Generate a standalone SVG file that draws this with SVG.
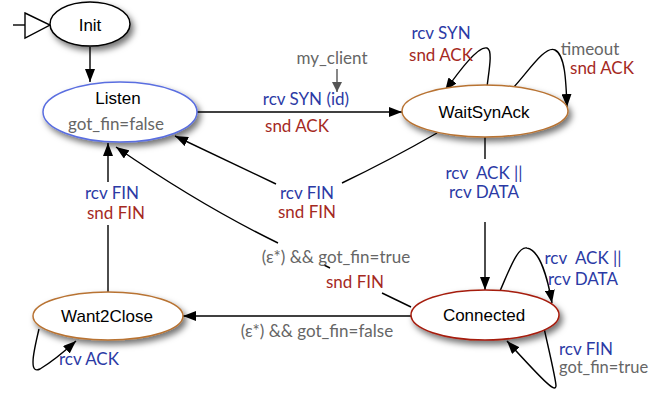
<svg xmlns="http://www.w3.org/2000/svg" width="651" height="393" viewBox="0 0 651 393">
<defs>
<filter id="sh" x="-30%" y="-40%" width="160%" height="190%">
<feDropShadow dx="3" dy="4" stdDeviation="3" flood-color="#000" flood-opacity="0.55"/>
</filter>
<marker id="ah" viewBox="0 0 13 10" refX="13" refY="5" markerWidth="13" markerHeight="10" markerUnits="userSpaceOnUse" orient="auto">
<path d="M0,0 L13,5 L0,10 Z" fill="#000"/>
</marker>
<marker id="ahg" viewBox="0 0 10 10" refX="10" refY="5" markerWidth="10" markerHeight="10" markerUnits="userSpaceOnUse" orient="auto">
<path d="M0,0 L10,5 L0,10 Z" fill="#555"/>
</marker>
</defs>
<style>
.node{fill:#fff;stroke-width:1.5;filter:url(#sh)}
.nm{font-family:"Liberation Sans",Arial,sans-serif;font-size:17px;fill:#000;text-anchor:middle;dominant-baseline:central}
.lb{font-family:Lato,"Open Sans",sans-serif;font-size:17px;text-anchor:middle;dominant-baseline:central}
.b{fill:#2b3aa5}
.r{fill:#a52a1f}
.g{fill:#666}
.e{fill:none;stroke:#000;stroke-width:1.4}
.a{marker-end:url(#ah)}
</style>
<g id="connectors">
<path class="e" d="M13,25 L25,25"/>
<path d="M25,13 L50,25 L25,38 Z" fill="#fff" stroke="#000" stroke-width="1.4"/>
<path class="e a" d="M90,47 L90,82"/>
<path class="e a" d="M197,112 L402,112"/>
<path class="e" d="M437,133 Q390,160 342,183"/>
<path class="e a" d="M276,184 Q230,162 175,136"/>
<path class="e" d="M411,307 L382,293"/>
<path class="e" d="M324,265 L330,268"/>
<path class="e a" d="M278,243 Q200,205 116,147"/>
<path class="e a" d="M411,316 L183,316"/>
<path class="e" d="M108,292 L108,225"/>
<path class="e a" d="M108,182 L108,143"/>
<path class="e a" d="M39,329 C34,350 28,375 40,369 Q55,360 76,341"/>
<path class="e" d="M485,137 L485,159"/>
<path class="e a" d="M485,222 L485,290"/>
<path class="e a" d="M500,291 C510,268 518,246 527,248 C540,250 548,280 552,303"/>
<path class="e a" d="M544,328 C550,355 556,380 556,386 C555,392 548,386 507,341"/>
<path class="e a" d="M487,87 C489,70 493,50 487,48 C478,46 460,70 445,91"/>
<path class="e a" d="M513,88 C528,72 545,45 555,50 C565,55 566,80 567,107"/>
<path d="M337,69 L337,92" fill="none" stroke="#555" stroke-width="1.4" marker-end="url(#ahg)"/>
</g>
<g id="labels">
<text class="lb g" x="332" y="57">my_client</text>
<text class="lb b" x="306" y="98">rcv SYN (id)</text>
<text class="lb r" x="297" y="125">snd ACK</text>
<text class="lb b" x="441" y="32">rcv SYN</text>
<text class="lb r" x="441" y="54">snd ACK</text>
<text class="lb g" x="590" y="48">timeout</text>
<text class="lb r" x="602" y="67">snd ACK</text>
<text class="lb b" x="307" y="192">rcv FIN</text>
<text class="lb r" x="307" y="211">snd FIN</text>
<text class="lb b" x="112" y="192">rcv FIN</text>
<text class="lb r" x="116" y="212">snd FIN</text>
<text class="lb b" x="484" y="172" xml:space="preserve">rcv  ACK ||</text>
<text class="lb b" x="484" y="191">rcv DATA</text>
<text class="lb g" x="336" y="256">(ε*) &amp;&amp; got_fin=true</text>
<text class="lb r" x="355" y="281">snd FIN</text>
<text class="lb g" x="317" y="330">(ε*) &amp;&amp; got_fin=false</text>
<text class="lb b" x="583" y="257" xml:space="preserve">rcv  ACK ||</text>
<text class="lb b" x="583" y="278">rcv DATA</text>
<text class="lb b" x="559" y="348" style="text-anchor:start">rcv FIN</text>
<text class="lb g" x="559" y="367" style="text-anchor:start;font-size:16.5px">got_fin=true</text>
<text class="lb b" x="89" y="358">rcv ACK</text>
</g>
<g id="init">
<ellipse class="node" cx="90" cy="24" rx="40" ry="22" stroke="#000"/>
<text class="nm" x="90" y="25">Init</text>
</g>
<g id="listen">
<ellipse class="node" cx="120" cy="112" rx="77" ry="30" stroke="#5a6ee0"/>
<text class="nm" x="118" y="98">Listen</text>
<text class="lb g" x="116" y="123">got_fin=false</text>
</g>
<g id="waitsynack">
<ellipse class="node" cx="485" cy="111" rx="83" ry="26" stroke="#b87333"/>
<text class="nm" x="484" y="112">WaitSynAck</text>
</g>
<g id="want2close">
<ellipse class="node" cx="108" cy="316" rx="75" ry="24" stroke="#b87333"/>
<text class="nm" x="107" y="316">Want2Close</text>
</g>
<g id="connected">
<ellipse class="node" cx="485" cy="315" rx="74" ry="25" stroke="#a51c0c"/>
<text class="nm" x="484" y="315">Connected</text>
</g>
</svg>
